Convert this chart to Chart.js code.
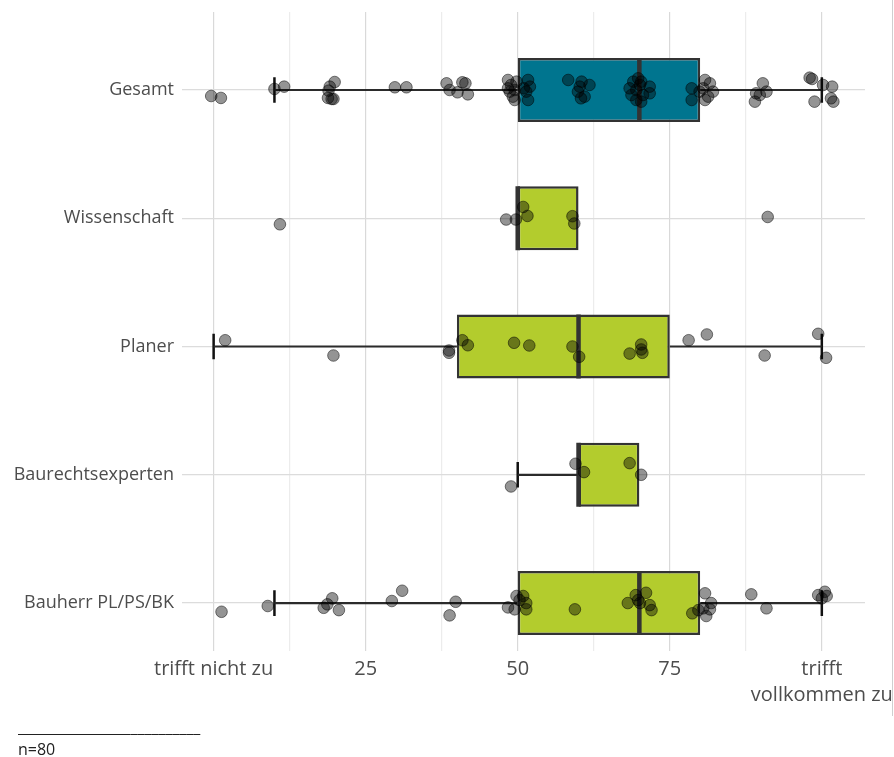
<!DOCTYPE html>
<html>
<head>
<meta charset="utf-8">
<script src="https://cdn.jsdelivr.net/npm/chart.js@4.4.1/dist/chart.umd.min.js"></script>
<style>
    html, body { margin: 0; padding: 0; background: #fff; }
    #wrap { position: relative; width: 894px; height: 757px; overflow: hidden; }
    #footnote { position: absolute; left: 18px; top: 716px; font-family: 'Open Sans', sans-serif; font-size: 16px; color: #222; line-height: 22px; }
    #edge { position: absolute; left: 892px; top: 0; width: 1px; height: 716px; background: #cfcfcf; }
</style>
</head>
<body>
<div id="wrap">
    <canvas id="boxplot" width="894" height="757"></canvas>
    <div id="edge"></div>
    <div id="footnote">__________________________<br>n=80</div>
</div>
<script>
'use strict';

// categories top to bottom
const categories = ['Gesamt', 'Wissenschaft', 'Planer', 'Baurechtsexperten', 'Bauherr PL/PS/BK'];

// box statistics per category
const q1 = [50, 50, 40, 60, 50];
const median = [70, 50, 60, 60, 70];
const q3 = [80, 60, 75, 70, 80];
const whiskerLow = [10, null, 0, 50, 10];
const whiskerHigh = [100, null, 100, null, 100];

// x tick labels
const xTickValues = [0, 25, 50, 75, 100];
const xTickLabels = ['trifft nicht zu', '25', '50', '75', ['trifft', 'vollkommen zu']];

// jittered answers (value) and their vertical jitter (in category units)
const gesamtValues = [-0.4, 1.2, 10.0, 11.6, 18.9, 19.9, 19.1, 18.8, 19.4, 19.7, 29.8, 31.7,
    38.3, 38.8, 40.1, 40.9, 41.4, 41.8,
    48.4, 48.9, 48.7, 49.2, 49.5, 49.8, 48.4, 49.5, 51.7, 52.0, 51.4, 51.7, 51.0,
    58.3, 60.5, 61.8, 60.2, 61.0, 60.4, 59.9,
    68.4, 69.0, 69.8, 70.3, 71.7, 71.7, 68.7, 69.5, 70.3, 70.6, 69.5, 70.1,
    78.6, 78.6, 80.8, 81.6, 80.5, 81.3, 80.8, 82.1, 79.9,
    90.3, 90.9, 89.2, 89.0, 89.8,
    98.0, 98.4, 100.2, 101.7, 98.8, 101.5, 101.9];
const gesamtJitter = [0.047, 0.062, -0.008, -0.026, 0.005, -0.062, -0.026, 0.062, 0.07, 0.07, -0.021, -0.021,
    -0.052, 0, 0.018, -0.06, -0.052, 0.034,
    -0.078, -0.039, 0.013, 0.052, 0.078, -0.065, -0.013, 0, -0.078, -0.026, 0.013, 0.078, -0.013,
    -0.078, -0.065, -0.039, -0.026, 0.052, 0.065, 0.013,
    -0.013, -0.065, -0.091, -0.065, -0.026, 0.026, 0.039, 0.078, 0.091, 0.039, 0, -0.039,
    -0.013, 0.078, -0.078, -0.052, -0.013, 0.052, 0.078, 0.013, 0.013,
    -0.052, 0.013, 0.026, 0.091, 0.039,
    -0.096, -0.086, -0.039, -0.026, 0.091, 0.065, 0.091];

const wissenschaftValues = [10.9, 48.1, 49.7, 50.9, 51.6, 59.0, 59.3, 91.1];
const wissenschaftJitter = [0.047, 0.01, 0.01, -0.088, -0.018, -0.016, 0.041, -0.01];

const planerValues = [1.9, 19.7, 38.7, 38.7, 40.9, 41.8, 49.4, 51.9, 59.0, 60.1, 68.4, 70.3, 70.3, 70.5,
    78.1, 81.1, 90.6, 99.4, 100.7];
const planerJitter = [-0.049, 0.07, 0.049, 0.031, -0.049, -0.01, -0.029, -0.008, 0, 0.08, 0.055, -0.016, 0.023, 0.049,
    -0.049, -0.094, 0.07, -0.099, 0.088];

const baurechtValues = [48.9, 59.5, 60.9, 68.4, 70.3];
const baurechtJitter = [0.091, -0.086, -0.021, -0.091, 0];

const bauherrValues = [1.3, 8.9, 18.1, 18.7, 19.5, 20.6, 29.3, 31.0, 38.8, 39.8,
    48.4, 49.5, 49.8, 50.9, 51.4, 51.4, 50.3, 59.4,
    68.1, 69.4, 71.1, 70.1, 71.7, 72.0, 69.8,
    78.7, 79.7, 80.8, 81.0, 80.5, 81.8, 81.6, 88.4, 90.9,
    99.4, 100.5, 100.8, 100.0];
const bauherrJitter = [0.068, 0.023, 0.037, 0.01, -0.037, 0.055, -0.016, -0.096, 0.096, -0.01,
    0.034, 0.049, -0.055, -0.055, 0, 0.049, -0.023, 0.049,
    0, -0.062, -0.08, 0, 0.016, 0.055, -0.023,
    0.08, 0.055, -0.076, 0.101, 0.041, 0, 0.049, -0.068, 0.041,
    -0.062, -0.088, -0.055, -0.037];

const pointGroups = [
    [gesamtValues, gesamtJitter],
    [wissenschaftValues, wissenschaftJitter],
    [planerValues, planerJitter],
    [baurechtValues, baurechtJitter],
    [bauherrValues, bauherrJitter],
];

const boxColors = ['#00758f', '#b3cc2d', '#b3cc2d', '#b3cc2d', '#b3cc2d'];
const halfBox = 0.25;
const halfCap = 0.1;
const fontFamily = "'Open Sans', sans-serif";

let datasets = [];

// jittered points on top
let points = [];
pointGroups.forEach((group, i) => {
    group[0].forEach((v, k) => points.push({x: v, y: i + group[1][k]}));
});
datasets.push({
    type: 'scatter',
    data: points,
    pointRadius: 5.8,
    pointBackgroundColor: 'rgba(0,0,0,0.42)',
    pointBorderColor: 'rgba(0,0,0,0.5)',
    pointBorderWidth: 1,
    order: 0,
});

let segment = (x1, y1, x2, y2, width, color) => ({
    type: 'line',
    data: [{x: x1, y: y1}, {x: x2, y: y2}],
    borderColor: color,
    borderWidth: width,
    pointRadius: 0,
    fill: false,
    order: 1,
});

categories.forEach((c, i) => {
    if (whiskerLow[i] !== null) {
        datasets.push(segment(whiskerLow[i], i, q1[i], i, 2.2, '#2b2b2b'));
        datasets.push(segment(whiskerLow[i], i - halfCap, whiskerLow[i], i + halfCap, 2.5, '#111'));
    }
    if (whiskerHigh[i] !== null) {
        datasets.push(segment(q3[i], i, whiskerHigh[i], i, 2.2, '#2b2b2b'));
        datasets.push(segment(whiskerHigh[i], i - halfCap, whiskerHigh[i], i + halfCap, 2.5, '#111'));
    }
    datasets.push(segment(median[i], i - halfBox, median[i], i + halfBox, 4.5, '#333'));
});

// boxes
datasets.push({
    type: 'bar',
    indexAxis: 'y',
    data: categories.map((c, i) => ({x: [q1[i], q3[i]], y: i})),
    backgroundColor: boxColors,
    borderColor: '#333',
    borderWidth: 2.5,
    borderSkipped: false,
    barPercentage: 1,
    categoryPercentage: 0.5,
    order: 2,
});

const ctx = document.getElementById('boxplot').getContext('2d');
new Chart(ctx, {
    type: 'scatter',
    data: {datasets: datasets},
    options: {
        responsive: false,
        animation: false,
        layout: {padding: {top: 12, right: 29, bottom: 0, left: 0}},
        plugins: {
            legend: {display: false},
            tooltip: {enabled: false},
        },
        scales: {
            x: {
                type: 'linear',
                offset: false,
                min: -5.2,
                max: 107.1,
                afterBuildTicks: (scale) => {
                    scale.ticks = [0, 12.5, 25, 37.5, 50, 62.5, 75, 87.5, 100].map(v => ({value: v}));
                },
                afterFit: (scale) => {
                    scale.height = 112;
                    scale.paddingLeft = 0;
                    scale.paddingRight = 0;
                },
                border: {display: false},
                grid: {
                    offset: false,
                    color: (c) => (c.tick && c.tick.value % 25 === 0) ? '#d9d9d9' : '#ececec',
                    tickColor: (c) => (c.tick && c.tick.value % 25 === 0) ? '#d9d9d9' : '#ececec',
                    tickLength: 6,
                    lineWidth: 1.2,
                },
                ticks: {
                    autoSkip: false,
                    maxRotation: 0,
                    padding: 5,
                    color: '#4d4d4d',
                    font: {family: fontFamily, size: 20, lineHeight: 1.3},
                    callback: function (value) {
                        let idx = xTickValues.indexOf(value);
                        return idx === -1 ? '' : xTickLabels[idx];
                    },
                },
            },
            y: {
                type: 'linear',
                offset: false,
                reverse: true,
                min: -0.608,
                max: 4.327,
                afterBuildTicks: (scale) => {
                    scale.ticks = categories.map((c, i) => ({value: i}));
                },
                afterFit: (scale) => {
                    scale.width = 182;
                    scale.paddingTop = 0;
                    scale.paddingBottom = 0;
                },
                border: {display: false},
                grid: {offset: false, color: '#dcdcdc', lineWidth: 1.2, drawTicks: false},
                ticks: {
                    padding: 8,
                    color: '#4d4d4d',
                    font: {family: fontFamily, size: 18},
                    callback: function (value) {
                        return categories[value] || '';
                    },
                },
            },
        },
    },
});
</script>
</body>
</html>
